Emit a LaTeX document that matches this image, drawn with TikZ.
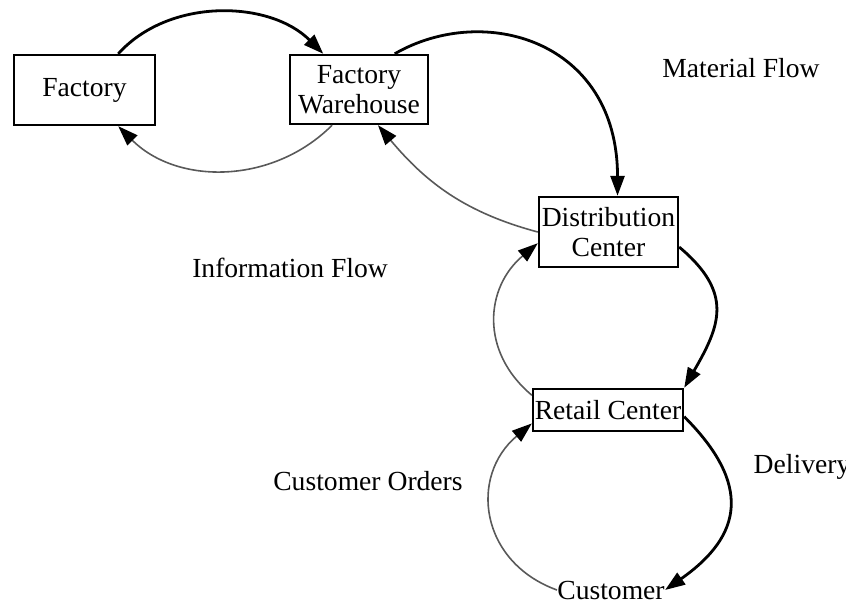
\documentclass[tikz,border=0pt]{standalone}
\usepackage{fontspec}
\setmainfont{Liberation Serif}
\usetikzlibrary{arrows.meta}

\begin{document}
\begin{tikzpicture}[x=0.5pt,y=-0.5pt,
	font=\fontsize{13.8pt}{15pt}\selectfont,
	box/.style={draw,line width=1.2pt,align=center,inner sep=0pt},
	tip/.style={-{Triangle[length=10pt,width=7pt,color=black]}},
	mat/.style={tip,line width=1.4pt},
	info/.style={tip,line width=0.8pt,black!65}]
\useasboundingbox (0,0) rectangle (846,601);
% boxes
\node[box,minimum width=70.5pt,minimum height=35pt] (fac) at (84.5,90) {Factory};
\node[box,minimum width=69pt,minimum height=34.5pt] (fw) at (359,89.5) {Factory\\Warehouse};
\node[box,minimum width=69.5pt,minimum height=35pt] (dc) at (608.5,232) {Distribution\\Center};
\node[box,minimum width=75pt,minimum height=21pt] (rc) at (608,410) {Retail Center};
\node[inner sep=0pt] (cust) at (611,590) {Customer};
% material flow
\draw[mat] (fac.47) to[out=48,in=135,looseness=0.95] (fw.135);
\draw[mat] (fw.45) to[out=30,in=90,out looseness=1,in looseness=1.5] (dc.76);
\draw[mat] (dc.-12) to[out=-40,in=60,looseness=1.3] (rc.north east);
\draw[mat] (rc.-5) to[out=-45,in=35,looseness=1.4] (cust.east);
% information flow
\draw[info] (fw.233) to[out=225,in=-45] (fac.-47);
\draw[info] (dc.west) to[out=165,in=-50] (fw.-62);
\draw[info] (rc.169) to[out=140,in=-140,looseness=1.15] (dc.189);
\draw[info] (cust.west) to[out=160,in=-140,looseness=1.25] (rc.190);
% labels
\draw	(741,68) node (matlabel) {Material Flow}
		(290,268) node (infolabel) {Information Flow}
		(368,481) node (orderlabel) {Customer Orders}
		(802,467) node (delivlabel) {Delivery};
\end{tikzpicture}
\end{document}
